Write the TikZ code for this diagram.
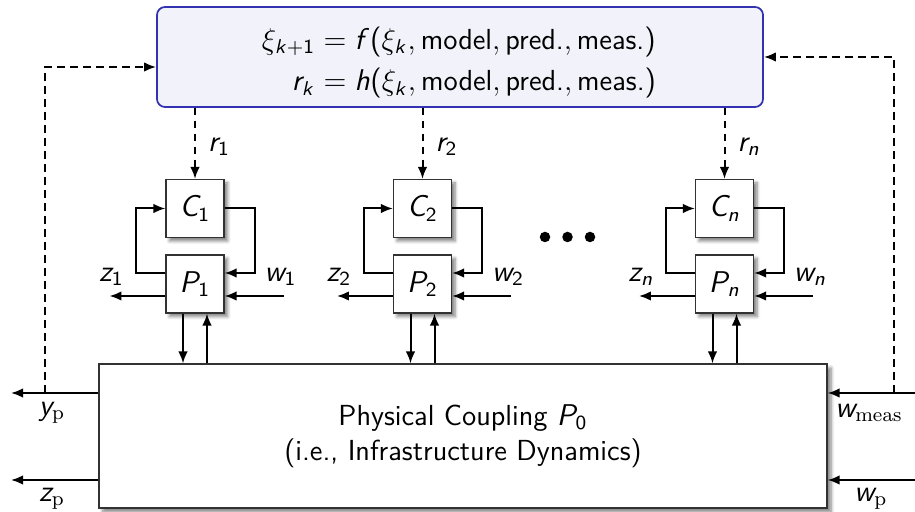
\documentclass[tikz,border=0pt]{standalone}
\usepackage{amsmath}
\usetikzlibrary{arrows.meta,calc,shadows.blur}
\renewcommand{\familydefault}{\sfdefault}
\DeclareSymbolFont{sfitalic}{OT1}{cmss}{m}{sl}
\SetSymbolFont{operators}{normal}{OT1}{cmss}{m}{n}
\DeclareMathAlphabet{\mathsr}{OT1}{cmr}{m}{n}
\makeatletter
\@tempcnta=`a
\loop
  \mathcode\@tempcnta=\numexpr"7000+\symsfitalic*"100+\@tempcnta\relax
  \ifnum\@tempcnta<`z \advance\@tempcnta\@ne
\repeat
\@tempcnta=`A
\loop
  \mathcode\@tempcnta=\numexpr"7000+\symsfitalic*"100+\@tempcnta\relax
  \ifnum\@tempcnta<`Z \advance\@tempcnta\@ne
\repeat
\makeatother
\definecolor{topblue}{RGB}{51,51,178}
\definecolor{topfill}{RGB}{242,242,250}
\definecolor{boxgray}{RGB}{50,50,50}
\tikzset{
  every node/.style={font=\fontsize{11.6}{14}\selectfont},
  blk/.style={draw=boxgray, line width=0.45pt, fill=white, minimum width=23.2pt, minimum height=23.2pt, inner sep=0pt,
    blur shadow={shadow xshift=1.4pt, shadow yshift=-1.4pt, shadow blur steps=6, shadow blur radius=1.3pt, shadow opacity=50}},
  bigblk/.style={draw=boxgray, line width=0.45pt, fill=white, minimum width=291.2pt, minimum height=57.6pt, inner sep=0pt, align=center,
    blur shadow={shadow xshift=1.6pt, shadow yshift=-1.6pt, shadow blur steps=6, shadow blur radius=1.4pt, shadow opacity=50}},
  topblk/.style={draw=topblue, line width=0.7pt, fill=topfill, rounded corners=3.2pt, minimum width=242.4pt, minimum height=40pt, inner sep=0pt},
  conn/.style={line width=0.8pt, -{Latex[length=4.8pt,width=3.8pt]}},
  dconn/.style={line width=0.8pt, dash pattern=on 3pt off 2.2pt, -{Latex[length=4.8pt,width=3.8pt]}},
  dot/.style={circle, fill=black, inner sep=0pt, minimum size=4.2pt},
}
\begin{document}
\begin{tikzpicture}[x=0.4pt,y=-0.4pt]
\useasboundingbox (0,0) rectangle (915,512);
% top estimator box
\node[topblk] (top) at (460,57) {};
\node (eq) at (459,63) {\begin{tabular}{@{}r@{}l@{}}
$\xi_{k+1}$ & ${}= f(\xi_k, \mbox{model}, \mbox{pred.}, \mbox{meas.})$\\[2.6pt]
$r_k$ & ${}= h(\xi_k, \mbox{model}, \mbox{pred.}, \mbox{meas.})$
\end{tabular}};
% physical coupling
\node[bigblk] (P0) at (463,436) {Physical Coupling $P_0$\\ (i.e., Infrastructure Dynamics)};
% subsystems
\foreach \i/\cx/\lab in {1/195/1, 2/422.5/2, n/724.5/n}{
  \node[blk] (C\i) at (\cx,208.5) {$C_{\lab}$};
  \node[blk] (P\i) at (\cx,284) {$P_{\lab}$};
  \draw[dconn] (top.south -| C\i) -- node[right, xshift=1.5pt, pos=0.55] (r\i) {$r_{\lab}$} (C\i.north);
  \draw[conn] (C\i.east) -- ++(30,0) |- ($(P\i.east)+(0,-11)$);
  \draw[conn] ($(P\i.west)+(0,-11)$) -- ++(-29,0) |- (C\i.west);
  \coordinate (zs\i) at ($(P\i.west)+(0,12)$);
  \coordinate (ze\i) at ($(P\i.west)+(-56,12)$);
  \draw[conn] (zs\i) -- (ze\i);
  \node (zl\i) at ($(P\i.west)+(-54,-7)$) {$z_{\lab}$};
  \coordinate (ws\i) at ($(P\i.east)+(59,12)$);
  \coordinate (we\i) at ($(P\i.east)+(0,12)$);
  \draw[conn] (ws\i) -- (we\i);
  \node (wl\i) at ($(P\i.east)+(56,-7)$) {$w_{\lab}$};
  \coordinate (dn\i) at ($(P\i.south)+(-12,0)$);
  \coordinate (up\i) at ($(P\i.south)+(12,0)$);
  \draw[conn] (dn\i) -- (dn\i |- P0.north);
  \draw[conn] (up\i |- P0.north) -- (up\i);
}
% dots
\node[dot] (d1) at (545,237) {};
\node[dot] (d2) at (567.5,237) {};
\node[dot] (d3) at (590,237) {};
% outer signals
\coordinate (yp) at (11,393);
\coordinate (zp) at (11,480);
\coordinate (wm) at (915,393);
\coordinate (wp) at (915,480);
\draw[conn] (P0.west |- yp) -- (yp);
\draw[conn] (P0.west |- zp) -- (zp);
\draw[conn] (wm) -- (wm -| P0.east);
\draw[conn] (wp) -- (wp -| P0.east);
\node (ypl) at (52,413) {$y_{\mathsr{p}}$};
\node (zpl) at (52,499) {$z_{\mathsr{p}}$};
\node (wml) at (869,413) {$w_{\mathsr{meas}}$};
\node (wpl) at (871,499) {$w_{\mathsr{p}}$};
% dashed measurement feedback
\coordinate (ld) at (45,393);
\coordinate (rd) at (894,393);
\draw[dconn] (ld) |- ($(top.west)+(0,10)$);
\draw[dconn] (rd) |- (top.east);
\end{tikzpicture}
\end{document}
